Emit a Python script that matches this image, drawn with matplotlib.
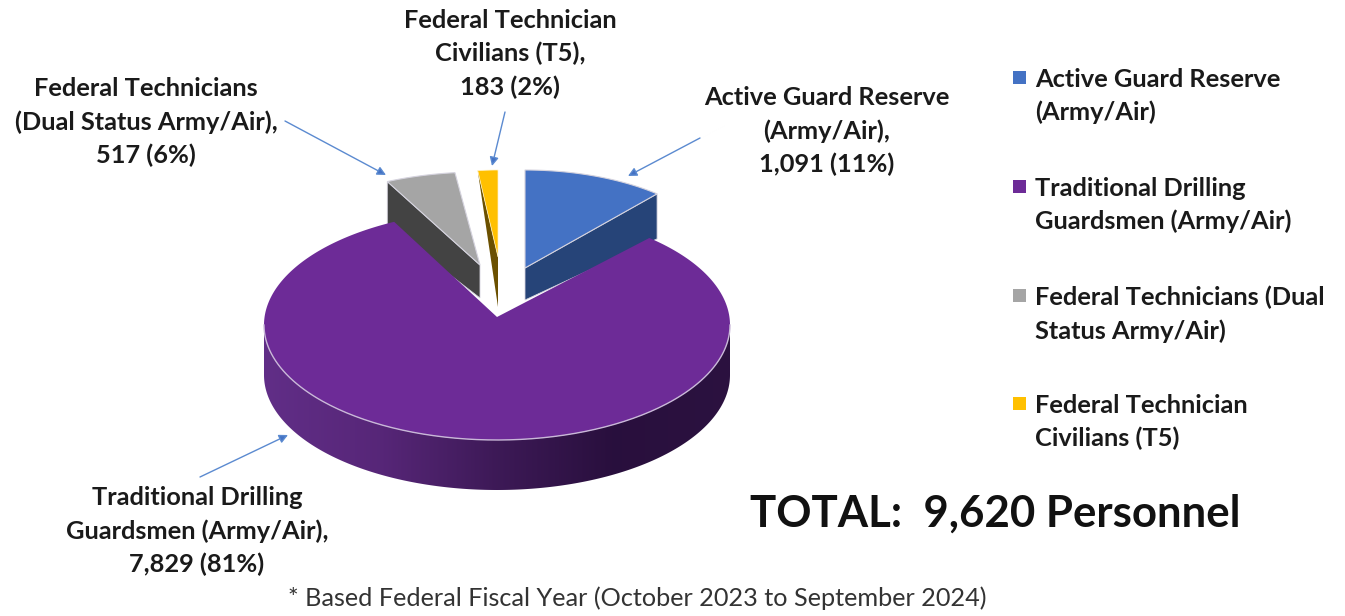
import numpy as np
import matplotlib
matplotlib.use('Agg')
import matplotlib.pyplot as plt
from matplotlib.patches import Polygon, Rectangle

plt.rcParams['font.family'] = ['Lato', 'DejaVu Sans']

# Data
categories = ['Active Guard Reserve (Army/Air)', 'Traditional Drilling Guardsmen (Army/Air)',
              'Federal Technicians (Dual Status Army/Air)', 'Federal Technician Civilians (T5)']
personnel = [1091, 7829, 517, 183]
percents = [11, 81, 6, 2]
colors = ['#4472c4', '#6d2b97', '#a5a5a5', '#ffc000']
side_colors = ['#264478', '#5a2a82', '#434343', '#6b5000']

legend_labels = ['Active Guard Reserve\n(Army/Air)', 'Traditional Drilling\nGuardsmen (Army/Air)',
                 'Federal Technicians (Dual\nStatus Army/Air)', 'Federal Technician\nCivilians (T5)']
callout_names = ['Active Guard Reserve\n(Army/Air),', 'Traditional Drilling\nGuardsmen (Army/Air),',
                 'Federal Technicians\n(Dual Status Army/Air),', 'Federal Technician\nCivilians (T5),']
total_label = 'TOTAL:  9,620 Personnel'
footnote = '* Based Federal Fiscal Year (October 2023 to September 2024)'

# slice angles, clockwise from 12 o'clock
shares = np.array(personnel) / sum(personnel) * 360
ends = np.cumsum(shares)
starts = ends - shares


def arc(center, rx, ry, t1, t2, n=120):
    t = np.radians(np.linspace(t1, t2, n))
    return np.column_stack([center[0] + rx * np.sin(t), center[1] - ry * np.cos(t)])


fig = plt.figure(figsize=(13.45, 6.16), dpi=100)
ax = fig.add_axes([0, 0, 1, 1])
ax.set_xlim(0, 1345)
ax.set_ylim(616, 0)
ax.axis('off')

edge = '#d5d3de'

# exploded slices: apex, radii, depth at apex / at rim
blue_apex, blue_rx, blue_ry = (525, 268), 202, 98
grey_apex, grey_rx, grey_ry = (480, 265), 210, 93
gold_apex, gold_rx, gold_ry = (498, 257), 170, 87

# blue slice
pts = arc(blue_apex, blue_rx, blue_ry, starts[0], ends[0])
rim = pts[-1]
ax.add_patch(Polygon([blue_apex, rim, (rim[0], rim[1] + 45), (blue_apex[0], blue_apex[1] + 32)],
                     fc=side_colors[0], ec=edge, lw=0.6, zorder=2))
ax.add_patch(Polygon(np.vstack([[blue_apex], pts]), fc=colors[0], ec=edge, lw=0.8, zorder=3))

# grey slice
pts = arc(grey_apex, grey_rx, grey_ry, starts[2], ends[2])
rim = pts[0]
ax.add_patch(Polygon([grey_apex, rim, (rim[0], rim[1] + 45), (grey_apex[0], grey_apex[1] + 33)],
                     fc=side_colors[2], ec=edge, lw=0.6, zorder=2))
ax.add_patch(Polygon(np.vstack([[grey_apex], pts]), fc=colors[2], ec=edge, lw=0.8, zorder=3))

# gold slice
pts = arc(gold_apex, gold_rx, gold_ry, starts[3], ends[3])
rim = pts[0]
ax.add_patch(Polygon([gold_apex, rim, (gold_apex[0], gold_apex[1] + 50)],
                     fc=side_colors[3], ec='none', zorder=2))
ax.add_patch(Polygon(np.vstack([[gold_apex], pts]), fc=colors[3], ec='#fff2c8', lw=0.5, zorder=3))

# big purple slice
cx, cy, rx, ry, depth = 497, 325, 233, 115, 50
apex = (497, 317)
top_arc = arc((cx, cy), rx, ry, starts[1], ends[1], 300)

# side wall with left-to-right gradient
front = arc((cx, cy), rx, ry, 90, 270, 200)
wall = np.vstack([front, front[::-1] + [0, depth]])
wall_patch = Polygon(wall, fc='none', ec='none', zorder=4)
ax.add_patch(wall_patch)
shade = np.array([[0.38, 0.18, 0.53], [0.34, 0.15, 0.47], [0.24, 0.10, 0.34], [0.16, 0.06, 0.24], [0.17, 0.07, 0.25]])
pos = np.linspace(0, 1, 256)
grad = np.column_stack([np.interp(pos, np.linspace(0, 1, 5), shade[:, i]) for i in range(3)])[None, :, :]
im = ax.imshow(grad, extent=[cx - rx, cx + rx, cy + ry + depth, cy], aspect='auto', zorder=4)
im.set_clip_path(wall_patch)
ax.set_xlim(0, 1345)
ax.set_ylim(616, 0)

ax.add_patch(Polygon(np.vstack([[apex], top_arc]), fc=colors[1], ec='none', zorder=5))
ax.plot(front[:, 0], front[:, 1], color='#c9b8d8', lw=1, zorder=6)

# callouts
text_kw = dict(ha='center', va='center', fontsize=18.3, fontweight='bold', color='#1a1a1a', linespacing=1.5, zorder=8)
ax.text(827, 131, f'{callout_names[0]}\n{personnel[0]:,} ({percents[0]}%)', **text_kw)
ax.text(197, 531, f'{callout_names[1]}\n{personnel[1]:,} ({percents[1]}%)', **text_kw)
ax.text(146, 122, f'{callout_names[2]}\n{personnel[2]:,} ({percents[2]}%)', **text_kw)
ax.text(510, 54, f'{callout_names[3]}\n{personnel[3]:,} ({percents[3]}%)', **text_kw)

# arrows
tails = [(700, 138), (200, 477), (285, 121), (505, 112)]
tips = [(628, 176), (288, 435), (386, 175), (492, 166)]
for tail, tip in zip(tails, tips):
    ax.annotate('', xy=tip, xytext=tail, zorder=7,
                arrowprops=dict(arrowstyle='-|>', color='#6f9bd6', lw=1, mutation_scale=13,
                                shrinkA=0, shrinkB=0, fc='#4472c4', ec='#5b8ad0'))

# legend
legend_y = [77, 186, 295, 403]
for lab, col, y in zip(legend_labels, colors, legend_y):
    ax.add_patch(Rectangle((1013, y - 6), 13, 13, fc=col, ec='none'))
    ax.text(1035, y - 9, lab, ha='left', va='top', fontsize=18.3, fontweight='bold',
            color='#1a1a1a', linespacing=1.5)

ax.text(995, 514, total_label, ha='center', va='center', fontsize=31.5, fontweight='bold', color='#111111')
ax.text(637, 598, footnote, ha='center', va='center', fontsize=18.2, color='#333333')

fig.savefig('out.png', dpi=100)
